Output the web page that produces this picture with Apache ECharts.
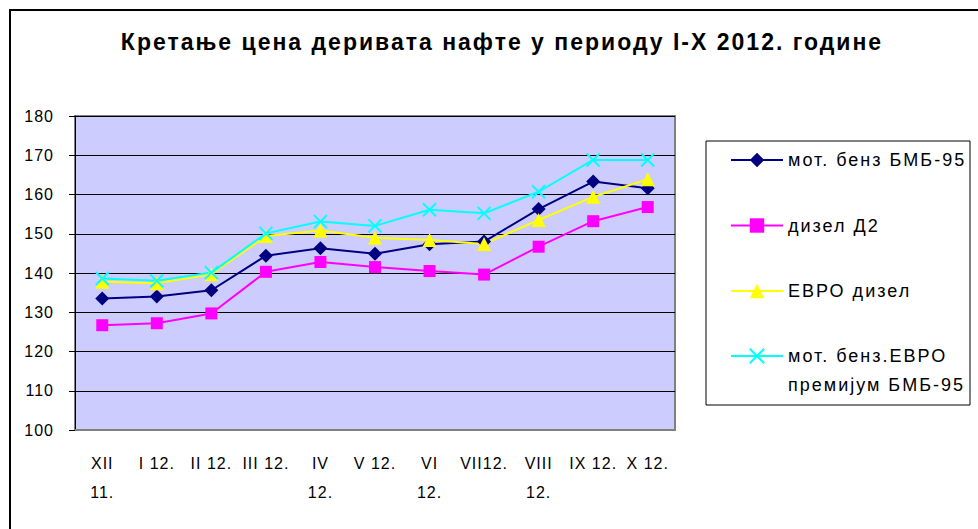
<!DOCTYPE html>
<html>
<head>
<meta charset="utf-8">
<script src="https://cdn.jsdelivr.net/npm/echarts@6/dist/echarts.min.js"></script>
<style>
html,body{margin:0;padding:0;background:#fff}
#c{width:978px;height:529px}
#c text[style*="23px"]{letter-spacing:2px}
#c text[style*="18px"]{letter-spacing:2px}
#c text[style*="16px"]{letter-spacing:1px}
</style>
</head>
<body>
<div id="c"></div>
<script>
const categories = ['XII\n11.', 'I 12.', 'II 12.', 'III 12.', 'IV\n12.', 'V 12.', 'VI\n12.', 'VII12.', 'VIII\n12.', 'IX 12.', 'X 12.'];
const seriesNames = ['мот. бенз БМБ-95', 'дизел Д2', 'ЕВРО дизел', 'мот. бенз.ЕВРО\nпремијум БМБ-95'];
const benzBMB95 = [133.5, 134.0, 135.6, 144.4, 146.3, 144.9, 147.3, 148.0, 156.3, 163.3, 161.6];
const dizelD2 = [126.7, 127.2, 129.7, 140.3, 142.8, 141.5, 140.5, 139.6, 146.7, 153.2, 156.8];
const evroDizel = [137.8, 137.4, 139.7, 149.4, 150.8, 149.0, 148.4, 147.4, 153.5, 159.4, 163.9];
const evroPremium = [138.6, 138.0, 140.1, 150.1, 153.1, 152.0, 156.1, 155.2, 160.7, 168.8, 168.8];
const yTicks = {min: 100, max: 180, interval: 10};

const font = "'Liberation Sans', Arial, sans-serif";
const legendText = {fontFamily: font, fontSize: 18, color: '#000', lineHeight: 29};
const chart = echarts.init(document.getElementById('c'), null, {renderer: 'svg'});
chart.setOption({
  backgroundColor: '#ffffff',
  animation: false,
  title: {
    text: 'Кретање цена деривата нафте у периоду I-X 2012. године',
    left: 497, top: 25, textAlign: 'center',
    textStyle: {fontFamily: font, fontSize: 23, fontWeight: 'bold', color: '#000'}
  },
  graphic: [
    {type: 'rect', shape: {x: 10, y: 10, width: 1000, height: 600}, style: {fill: 'none', stroke: '#000', lineWidth: 2}, z: -1},
    {type: 'rect', shape: {x: 706, y: 141, width: 264, height: 264}, style: {fill: 'none', stroke: '#000', lineWidth: 1}, z: -1}
  ],
  legend: [
    {
      orient: 'vertical', left: 730, top: 145.5, padding: 0, itemGap: 36.5,
      itemWidth: 52, itemHeight: 18, textStyle: legendText,
      data: [seriesNames[0], seriesNames[1], seriesNames[2]]
    },
    {
      orient: 'vertical', left: 730, top: 312.5, padding: 0,
      itemWidth: 52, itemHeight: 18, textStyle: legendText,
      data: [seriesNames[3]],
      formatter: function (name) { return '\n' + name; }
    }
  ],
  grid: {left: 75, top: 116, width: 600, height: 314, show: true, backgroundColor: '#CCCCFF', borderColor: '#808080', borderWidth: 2},
  xAxis: {
    type: 'category', data: categories, boundaryGap: true,
    axisLine: {lineStyle: {color: '#808080', width: 2}},
    axisTick: {show: false},
    axisLabel: {fontFamily: font, fontSize: 16, color: '#000', lineHeight: 29, margin: 18.5, interval: 0}
  },
  yAxis: {
    type: 'value', min: yTicks.min, max: yTicks.max, interval: yTicks.interval,
    axisLine: {show: true, lineStyle: {color: '#000', width: 1}},
    axisTick: {show: true, length: 6, lineStyle: {color: '#000'}},
    splitLine: {lineStyle: {color: '#000', width: 1}},
    axisLabel: {fontFamily: font, fontSize: 16, color: '#000', margin: 21}
  },
  series: [
    {name: seriesNames[0], type: 'line', data: benzBMB95, symbol: 'diamond', symbolSize: 14,
     lineStyle: {color: '#000080', width: 2}, itemStyle: {color: '#000080'}},
    {name: seriesNames[1], type: 'line', data: dizelD2, symbol: 'rect', symbolSize: 12,
     lineStyle: {color: '#FF00FF', width: 2}, itemStyle: {color: '#FF00FF'}},
    {name: seriesNames[2], type: 'line', data: evroDizel, symbol: 'triangle', symbolSize: 14,
     lineStyle: {color: '#FFFF00', width: 2}, itemStyle: {color: '#FFFF00'}},
    {name: seriesNames[3], type: 'line', data: evroPremium, symbol: 'path://M0,0L10,10M10,0L0,10', symbolSize: 13,
     lineStyle: {color: '#00FFFF', width: 2}, itemStyle: {color: '#00FFFF', borderColor: '#00FFFF', borderWidth: 2}}
  ]
});
</script>
</body>
</html>
